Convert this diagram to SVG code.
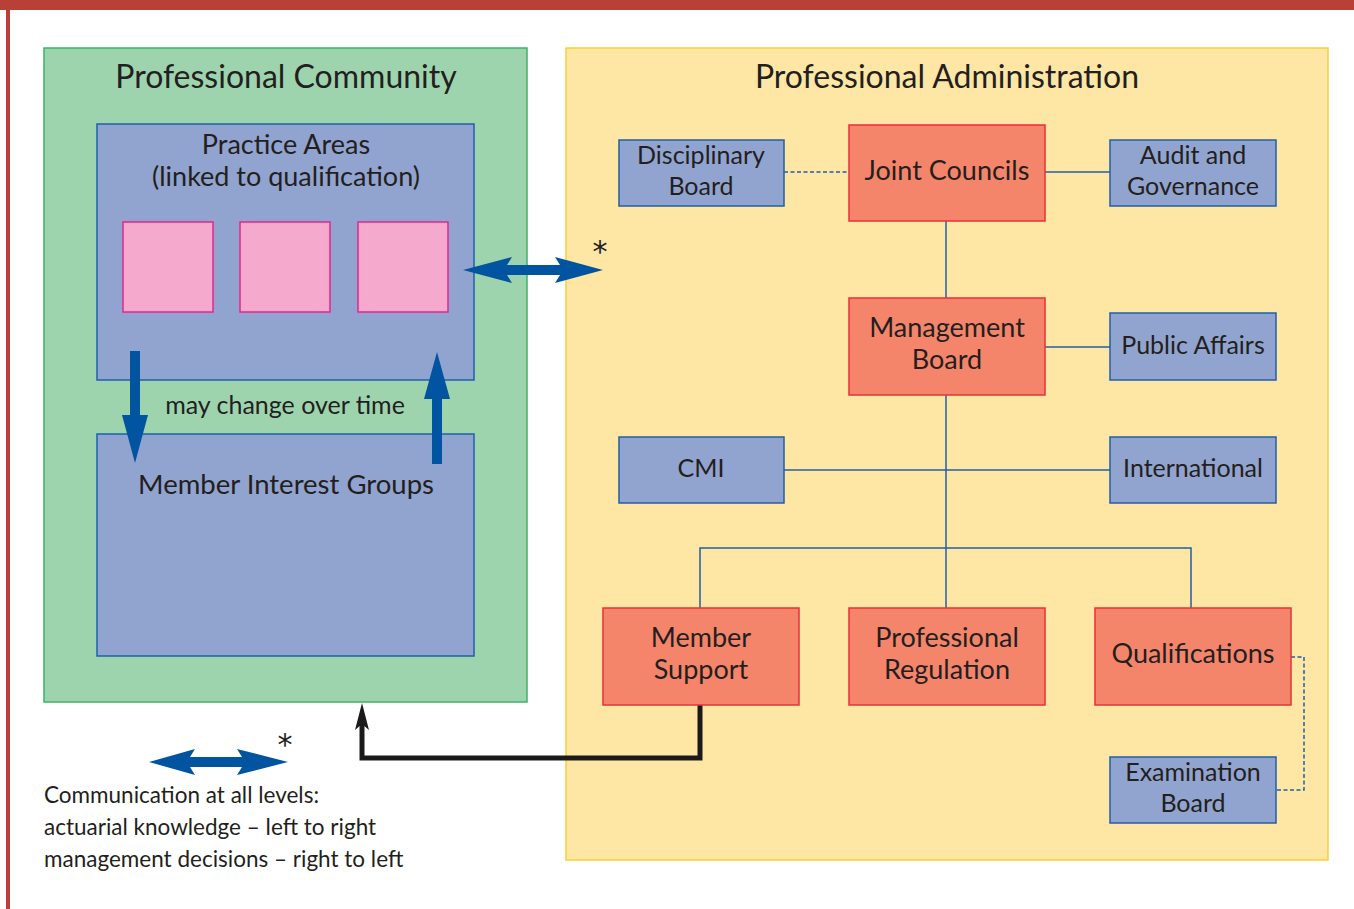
<svg xmlns="http://www.w3.org/2000/svg" width="1354" height="909" viewBox="0 0 1354 909">
  <style>
    text { font-family: "Lato", "Open Sans", "Liberation Sans", sans-serif; fill: #231f20; text-anchor: middle; }
    .title { font-size: 32px; }
    .lbl { font-size: 25px; }
    .big { font-size: 27px; }
    .note { font-size: 22.5px; text-anchor: start; }
    .star { font-family: "DejaVu Sans", sans-serif; font-size: 30px; }
    .blue { fill: #91a4cf; stroke: #1f5fa8; stroke-width: 1.5; }
    .red { fill: #f5856a; stroke: #e8303a; stroke-width: 1.5; }
    .pink { fill: #f5a9cc; stroke: #e6268f; stroke-width: 1.5; }
    .link { fill: none; stroke: #1f5fa8; stroke-width: 1.5; }
    .dash { fill: none; stroke: #1f5fa8; stroke-width: 1.5; stroke-dasharray: 4 2.5; }
    .bigarrow { fill: #0054a0; }
  </style>

  <!-- page frame -->
  <rect x="0" y="0" width="1354" height="909" fill="#ffffff"/>
  <rect x="0" y="0" width="1354" height="10" fill="#b94037"/>
  <rect x="6" y="0" width="4" height="909" fill="#b94037"/>

  <!-- Professional Community panel -->
  <g id="professional-community">
    <rect x="44" y="48" width="483" height="654" fill="#9dd4ad" stroke="#3db36a" stroke-width="1.5"/>
    <text class="title" x="286" y="88">Professional Community</text>
  </g>

  <g id="practice-areas">
    <rect class="blue" x="97" y="124" width="377" height="256"/>
    <text class="big" x="286" y="154">Practice Areas</text>
    <text class="big" x="286" y="186">(linked to qualification)</text>
    <rect class="pink" x="123" y="222" width="90" height="90"/>
    <rect class="pink" x="240" y="222" width="90" height="90"/>
    <rect class="pink" x="358" y="222" width="90" height="90"/>
  </g>

  <g id="member-interest-groups">
    <rect class="blue" x="97" y="434" width="377" height="222"/>
    <text x="286" y="494" style="font-size:27.5px">Member Interest Groups</text>
  </g>

  <!-- Professional Administration panel -->
  <g id="professional-administration">
    <rect x="566" y="48" width="762" height="812" fill="#fee6a5" stroke="#f9d033" stroke-width="1.5"/>
    <text class="title" x="947" y="88">Professional Administration</text>
  </g>

  <!-- connectors -->
  <g id="connectors">
    <line class="dash" x1="784" y1="172" x2="849" y2="172"/>
    <line class="link" x1="1045" y1="172" x2="1110" y2="172"/>
    <line class="link" x1="946" y1="221" x2="946" y2="298"/>
    <line class="link" x1="1045" y1="347" x2="1110" y2="347"/>
    <line class="link" x1="946" y1="395" x2="946" y2="608"/>
    <line class="link" x1="784" y1="470" x2="1110" y2="470"/>
    <polyline class="link" points="700,608 700,548 1191,548 1191,608"/>
    <polyline class="dash" points="1291,657 1304,657 1304,790 1276,790"/>

    <!-- member support feedback to the community -->
    <polyline points="700,705 700,758 362,758 362,718" fill="none" stroke="#1a1a1a" stroke-width="5"/>
    <polygon points="362,703 355,730 362,724 369,730" fill="#1a1a1a"/>

    <!-- may change over time -->
    <polygon class="bigarrow" points="130,351 140,351 140,415 148,415 135,463 122,415 130,415"/>
    <polygon class="bigarrow" points="432,464 442,464 442,399 450,399 437,352 424,399 432,399"/>

    <!-- communication between community and administration -->
    <polygon class="bigarrow" points="463,270 512,257 507,265 560,265 555,257 603,270 555,283 560,275 507,275 512,283"/>
  </g>

  <text x="285" y="414" style="font-size:25px">may change over time</text>
  <text class="star" x="600" y="262">*</text>

  <g id="disciplinary-board">
    <rect class="blue" x="619" y="140" width="165" height="66"/>
    <text class="lbl" x="701" y="164">Disciplinary</text>
    <text class="lbl" x="701" y="195">Board</text>
  </g>
  <g id="joint-councils">
    <rect class="red" x="849" y="125" width="196" height="96"/>
    <text class="big" x="947" y="180">Joint Councils</text>
  </g>
  <g id="audit-governance">
    <rect class="blue" x="1110" y="140" width="166" height="66"/>
    <text class="lbl" x="1193" y="164">Audit and</text>
    <text class="lbl" x="1193" y="195">Governance</text>
  </g>
  <g id="management-board">
    <rect class="red" x="849" y="298" width="196" height="97"/>
    <text class="big" x="947" y="337">Management</text>
    <text class="big" x="947" y="369">Board</text>
  </g>
  <g id="public-affairs">
    <rect class="blue" x="1110" y="313" width="166" height="67"/>
    <text class="lbl" x="1193" y="354">Public Affairs</text>
  </g>
  <g id="cmi">
    <rect class="blue" x="619" y="437" width="165" height="66"/>
    <text class="lbl" x="701" y="477">CMI</text>
  </g>
  <g id="international">
    <rect class="blue" x="1110" y="437" width="166" height="66"/>
    <text class="lbl" x="1193" y="477">International</text>
  </g>
  <g id="member-support">
    <rect class="red" x="603" y="608" width="196" height="97"/>
    <text class="big" x="701" y="647">Member</text>
    <text class="big" x="701" y="679">Support</text>
  </g>
  <g id="professional-regulation">
    <rect class="red" x="849" y="608" width="196" height="97"/>
    <text class="big" x="947" y="647">Professional</text>
    <text class="big" x="947" y="679">Regulation</text>
  </g>
  <g id="qualifications">
    <rect class="red" x="1095" y="608" width="196" height="97"/>
    <text class="big" x="1193" y="663">Qualifications</text>
  </g>
  <g id="examination-board">
    <rect class="blue" x="1110" y="757" width="166" height="66"/>
    <text class="lbl" x="1193" y="781">Examination</text>
    <text class="lbl" x="1193" y="812">Board</text>
  </g>

  <!-- legend -->
  <g id="legend">
    <polygon class="bigarrow" points="149,762 195,749 190,757 242,757 237,749 288,762 237,775 242,767 190,767 195,775"/>
    <text class="star" x="285" y="755">*</text>
    <text class="note" x="44" y="803">Communication at all levels:</text>
    <text class="note" x="44" y="835">actuarial knowledge – left to right</text>
    <text class="note" x="44" y="867">management decisions – right to left</text>
  </g>
</svg>
